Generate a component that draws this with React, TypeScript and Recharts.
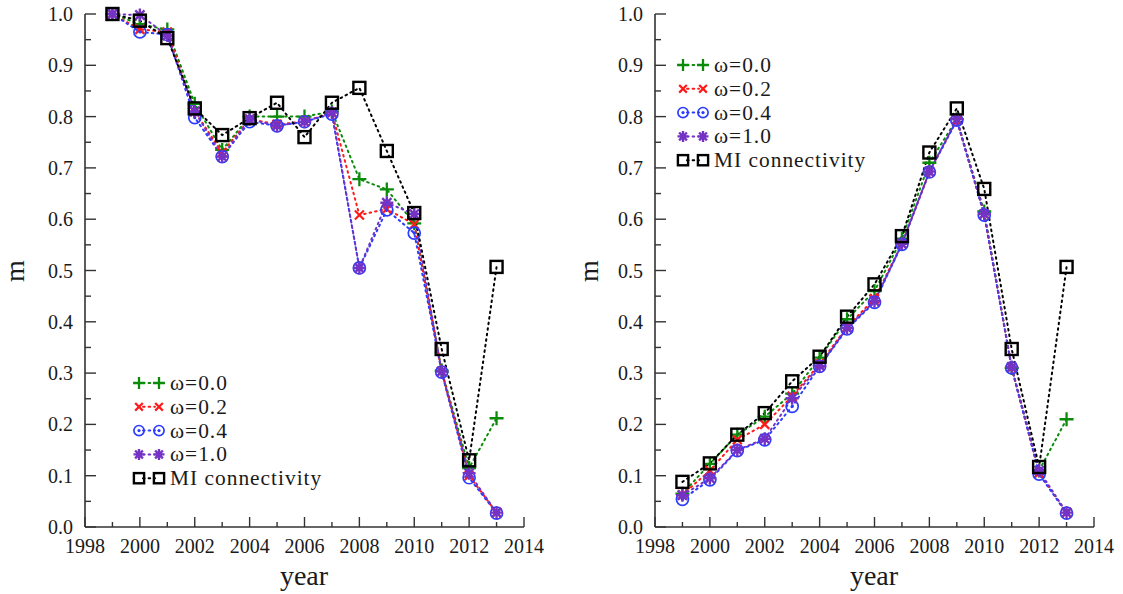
import { LineChart, Line, XAxis, YAxis } from 'recharts'

// years on the horizontal axis
const years = [1999, 2000, 2001, 2002, 2003, 2004, 2005, 2006, 2007, 2008, 2009, 2010, 2011, 2012, 2013]

// left panel
const leftW00 = [1.0, 0.98, 0.97, 0.825, 0.735, 0.8, 0.8, 0.8, 0.81, 0.678, 0.658, 0.592, 0.305, 0.115, 0.212]
const leftW02 = [1.0, 0.97, 0.965, 0.81, 0.73, 0.795, 0.785, 0.79, 0.808, 0.608, 0.62, 0.59, 0.303, 0.1, 0.028]
const leftW04 = [1.0, 0.965, 0.96, 0.798, 0.722, 0.79, 0.782, 0.79, 0.805, 0.505, 0.618, 0.573, 0.302, 0.096, 0.027]
const leftW10 = [1.0, 0.998, 0.958, 0.81, 0.722, 0.795, 0.782, 0.79, 0.808, 0.505, 0.632, 0.61, 0.303, 0.105, 0.028]
const leftMI = [1.0, 0.987, 0.953, 0.816, 0.764, 0.797, 0.827, 0.76, 0.827, 0.856, 0.733, 0.612, 0.347, 0.13, 0.507]

// right panel
const rightW00 = [0.065, 0.123, 0.18, 0.215, 0.26, 0.33, 0.405, 0.46, 0.562, 0.71, 0.795, 0.615, 0.31, 0.11, 0.21]
const rightW02 = [0.063, 0.11, 0.17, 0.2, 0.255, 0.318, 0.39, 0.445, 0.552, 0.692, 0.793, 0.61, 0.31, 0.105, 0.028]
const rightW04 = [0.054, 0.092, 0.149, 0.17, 0.235, 0.313, 0.386, 0.438, 0.551, 0.692, 0.793, 0.608, 0.31, 0.103, 0.027]
const rightW10 = [0.062, 0.095, 0.15, 0.172, 0.251, 0.314, 0.388, 0.44, 0.552, 0.693, 0.795, 0.61, 0.312, 0.11, 0.028]
const rightMI = [0.088, 0.124, 0.18, 0.222, 0.284, 0.332, 0.41, 0.473, 0.567, 0.73, 0.816, 0.659, 0.347, 0.117, 0.507]

const xTicks = [1998, 1999, 2000, 2001, 2002, 2003, 2004, 2005, 2006, 2007, 2008, 2009, 2010, 2011, 2012, 2013, 2014]
const yTicks = [0, 0.05, 0.1, 0.15, 0.2, 0.25, 0.3, 0.35, 0.4, 0.45, 0.5, 0.55, 0.6, 0.65, 0.7, 0.75, 0.8, 0.85, 0.9, 0.95, 1.0]

const seriesNames = ['ω=0.0', 'ω=0.2', 'ω=0.4', 'ω=1.0', 'MI connectivity']

const FONT = '"Liberation Serif", "Times New Roman", serif'
const AXIS = '#333'
const TEXT = '#1a1a1a'

type Kind = 'plus' | 'cross' | 'circle' | 'star' | 'square'

const series: { key: string; kind: Kind; color: string }[] = [
  { key: 'w00', kind: 'plus', color: '#0a8c0a' },
  { key: 'w02', kind: 'cross', color: '#ff1a1a' },
  { key: 'w04', kind: 'circle', color: '#2a3cff' },
  { key: 'w10', kind: 'star', color: '#7433c4' },
  { key: 'mi', kind: 'square', color: '#000000' }
]

const buildRows = (cols: number[][]) =>
  years.map((year, i) => ({
    year,
    w00: cols[0][i],
    w02: cols[1][i],
    w04: cols[2][i],
    w10: cols[3][i],
    mi: cols[4][i]
  }))

const leftData = buildRows([leftW00, leftW02, leftW04, leftW10, leftMI])
const rightData = buildRows([rightW00, rightW02, rightW04, rightW10, rightMI])

function Marker({ kind, cx, cy, color, s = 1 }: { kind: Kind; cx: number; cy: number; color: string; s?: number }) {
  switch (kind) {
    case 'plus': {
      const r = 7 * s
      return <path d={`M${cx - r},${cy}H${cx + r}M${cx},${cy - r}V${cy + r}`} stroke={color} strokeWidth={2.3} fill="none" />
    }
    case 'cross': {
      const r = 4.5 * s
      return (
        <path
          d={`M${cx - r},${cy - r}L${cx + r},${cy + r}M${cx - r},${cy + r}L${cx + r},${cy - r}`}
          stroke={color}
          strokeWidth={2.2}
          fill="none"
        />
      )
    }
    case 'circle':
      return (
        <g>
          <circle cx={cx} cy={cy} r={6 * s} stroke={color} strokeWidth={1.7} fill="none" />
          <circle cx={cx} cy={cy} r={1.6} fill={color} />
        </g>
      )
    case 'star': {
      const r = 6.5 * s
      const d = r * 0.707
      return (
        <g stroke={color} strokeWidth={2.4}>
          <path d={`M${cx - r},${cy}H${cx + r}M${cx},${cy - r}V${cy + r}M${cx - d},${cy - d}L${cx + d},${cy + d}M${cx - d},${cy + d}L${cx + d},${cy - d}`} />
          <circle cx={cx} cy={cy} r={3.2 * s} fill={color} stroke="none" />
        </g>
      )
    }
    default: {
      const h = 6 * s
      return <rect x={cx - h} y={cy - h} width={2 * h} height={2 * h} stroke={color} strokeWidth={2.4} fill="#fff" fillOpacity={0} />
    }
  }
}

// tick renderers: ticks point inward, labels only on the major ticks
const BottomTick = (props: any) => {
  const { x, y, payload } = props
  const major = payload.value % 2 === 0
  return (
    <g>
      <line x1={x} x2={x} y1={y} y2={y - (major ? 10 : 5)} stroke={AXIS} strokeWidth={1.4} />
      {major && (
        <text x={x} y={y + 26} textAnchor="middle" fontSize={20} fontFamily={FONT} fill={TEXT}>
          {payload.value}
        </text>
      )}
    </g>
  )
}

const TopTick = (props: any) => {
  const { x, y, payload } = props
  const major = payload.value % 2 === 0
  return <line x1={x} x2={x} y1={y} y2={y + (major ? 10 : 5)} stroke={AXIS} strokeWidth={1.4} />
}

const LeftTick = (props: any) => {
  const { x, y, payload } = props
  const major = Math.round(payload.value * 20) % 2 === 0
  return (
    <g>
      <line x1={x} x2={x + (major ? 11 : 6)} y1={y} y2={y} stroke={AXIS} strokeWidth={1.4} />
      {major && (
        <text x={x - 12} y={y + 7} textAnchor="end" fontSize={20} fontFamily={FONT} fill={TEXT}>
          {payload.value.toFixed(1)}
        </text>
      )}
    </g>
  )
}

const RightTick = (props: any) => {
  const { x, y, payload } = props
  const major = Math.round(payload.value * 20) % 2 === 0
  return <line x1={x - (major ? 11 : 6)} x2={x} y1={y} y2={y} stroke={AXIS} strokeWidth={1.4} />
}

function Panel({ data, left, width, axisWidth, rightMargin }: { data: any[]; left: number; width: number; axisWidth: number; rightMargin: number }) {
  return (
    <div style={{ position: 'absolute', left, top: 0 }}>
      <LineChart width={width} height={594} data={data} margin={{ top: 14, right: rightMargin, bottom: 0, left: 0 }}>
        <XAxis
          xAxisId="b"
          dataKey="year"
          type="number"
          domain={[1998, 2014]}
          ticks={xTicks}
          interval={0}
          height={67}
          tickSize={0}
          tickMargin={0}
          tickLine={false}
          tick={BottomTick}
          axisLine={{ stroke: AXIS, strokeWidth: 1.6 }}
        />
        <XAxis
          xAxisId="t"
          orientation="top"
          dataKey="year"
          type="number"
          domain={[1998, 2014]}
          ticks={xTicks}
          interval={0}
          height={0}
          tickSize={0}
          tickMargin={0}
          tickLine={false}
          tick={TopTick}
          axisLine={{ stroke: AXIS, strokeWidth: 1.6 }}
        />
        <YAxis
          yAxisId="l"
          type="number"
          domain={[0, 1]}
          ticks={yTicks}
          interval={0}
          width={axisWidth}
          tickSize={0}
          tickMargin={0}
          tickLine={false}
          tick={LeftTick}
          axisLine={{ stroke: AXIS, strokeWidth: 1.6 }}
        />
        <YAxis
          yAxisId="r"
          orientation="right"
          type="number"
          domain={[0, 1]}
          ticks={yTicks}
          interval={0}
          width={0}
          tickSize={0}
          tickMargin={0}
          tickLine={false}
          tick={RightTick}
          axisLine={{ stroke: AXIS, strokeWidth: 1.6 }}
        />
        {series.map((s) => (
          <Line
            key={s.key}
            xAxisId="b"
            yAxisId="l"
            dataKey={s.key}
            type="linear"
            stroke={s.color}
            strokeWidth={2}
            strokeDasharray="1.6 4"
            strokeLinecap="round"
            isAnimationActive={false}
            activeDot={false}
            dot={(p: any) => <Marker key={`${s.key}-${p.index}`} kind={s.kind} cx={p.cx} cy={p.cy} color={s.color} />}
          />
        ))}
      </LineChart>
    </div>
  )
}

// legend rows sit close together, so the text is kept just under the row pitch
const ROW = 23.8

function LegendBox({ x, y }: { x: number; y: number }) {
  return (
    <g>
      {series.map((s, i) => {
        const cy = y + i * ROW
        return (
          <g key={s.key}>
            <line x1={x + 4} x2={x + 16} y1={cy} y2={cy} stroke={s.color} strokeWidth={2} strokeDasharray="1.6 4" strokeLinecap="round" />
            <Marker kind={s.kind} cx={x} cy={cy} color={s.color} s={0.85} />
            <Marker kind={s.kind} cx={x + 20} cy={cy} color={s.color} s={0.85} />
            <text x={x + 31} y={cy + 7} fontSize={21.4} letterSpacing={1} fontFamily={FONT} fill={TEXT}>
              {seriesNames[i]}
            </text>
          </g>
        )
      })}
    </g>
  )
}

export default function App() {
  return (
    <div style={{ position: 'absolute', left: 0, top: 0, width: 1123, height: 594, background: '#fff' }}>
      <Panel data={leftData} left={0} width={560} axisWidth={85} rightMargin={36} />
      <Panel data={rightData} left={560} width={563} axisWidth={95} rightMargin={29} />
      <svg width={1123} height={594} style={{ position: 'absolute', left: 0, top: 0, pointerEvents: 'none' }}>
        <LegendBox x={139} y={383} />
        <LegendBox x={683} y={65} />
        <text x={304} y={585} textAnchor="middle" fontSize={28} fontFamily={FONT} fill={TEXT}>
          year
        </text>
        <text x={874} y={585} textAnchor="middle" fontSize={28} fontFamily={FONT} fill={TEXT}>
          year
        </text>
        <text x={24} y={271} transform="rotate(-90 24 271)" textAnchor="middle" fontSize={28} fontFamily={FONT} fill={TEXT}>
          m
        </text>
        <text x={598} y={271} transform="rotate(-90 598 271)" textAnchor="middle" fontSize={28} fontFamily={FONT} fill={TEXT}>
          m
        </text>
      </svg>
    </div>
  )
}
